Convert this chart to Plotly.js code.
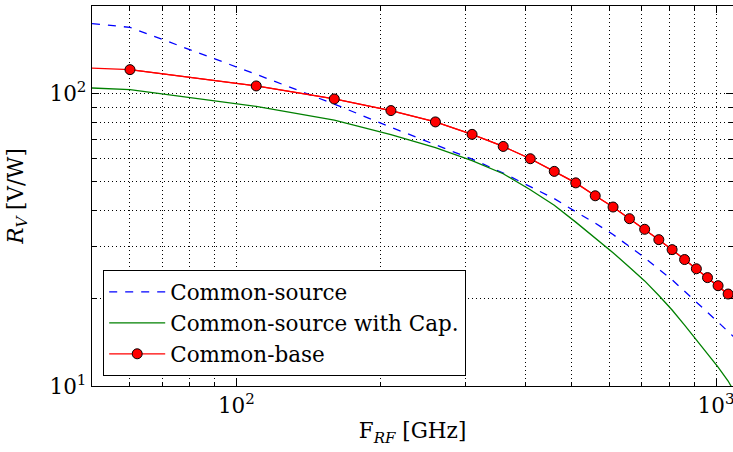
<!DOCTYPE html>
<html>
<head>
<meta charset="utf-8">
<script src="https://cdn.plot.ly/plotly-3.0.1.min.js"></script>
<style>html,body{margin:0;padding:0;background:#fff;}#chart{width:733px;height:452px;}</style>
</head>
<body>
<div id="chart"></div>
<script>
// Frequency samples (GHz)
const freq = [50, 60, 110, 160, 210, 260, 310, 360, 410, 460, 510, 560, 610, 660, 710, 760, 810, 860, 910, 960, 1010, 1060, 1100];
// Responsivity R_V [V/W]
const commonSource    = [174.1, 169.0, 116.7, 92.3, 76.9, 66.9, 59.8, 53.6, 48.1, 43.8, 39.5, 36.1, 33.0, 30.1, 27.5, 25.1, 23.1, 21.1, 19.4, 17.95, 16.55, 15.35, 14.5];
const commonSourceCap = [104.8, 103.4, 90.6, 81.3, 72.6, 65.5, 59.1, 53.3, 47.0, 41.6, 36.4, 32.1, 28.6, 25.5, 22.9, 20.4, 18.2, 16.15, 14.4, 12.9, 11.6, 10.4, 9.34];
const commonBase      = [122.6, 121.1, 106.5, 96.1, 87.7, 80.2, 72.7, 66.1, 60.0, 54.3, 49.6, 44.8, 41.0, 37.4, 34.4, 31.7, 29.3, 27.1, 25.2, 23.5, 22.05, 20.65, 19.6];
// Marker positions of the common-base curve
const markerFreq = freq.slice(1, 22);
const markerBase = commonBase.slice(1, 22);
// Ticks
const xMajor = [100, 1000];
const xMajorText = ['10<sup>2</sup>', '10<sup>3</sup>'];
const xMinor = [60, 70, 80, 90, 200, 300, 400, 500, 600, 700, 800, 900];
const yMajor = [10, 100];
const yMajorText = ['10<sup>1</sup>', '10<sup>2</sup>'];
const yMinor = [20, 30, 40, 50, 60, 70, 80, 90, 200];

const FONT = 'DejaVu Serif';
const FS = 21.5;

const traces = [
  {x: freq, y: commonSource, name: 'Common-source', mode: 'lines',
   line: {color: '#0000ff', width: 1.3, dash: '8px,8px'}},
  {x: freq, y: commonSourceCap, name: 'Common-source with Cap.', mode: 'lines',
   line: {color: '#008000', width: 1.3}},
  {x: freq, y: commonBase, name: 'cb-line', mode: 'lines', showlegend: false,
   line: {color: '#ff0000', width: 1.3}, hoverinfo: 'skip'},
  {x: markerFreq, y: markerBase, name: 'Common-base', mode: 'lines+markers',
   line: {color: '#ff0000', width: 1.3},
   marker: {color: '#ff0000', size: 10, line: {color: '#000000', width: 1}}}
];

const axisCommon = {
  type: 'log', showline: true, linecolor: '#000', linewidth: 1.3, mirror: 'ticks',
  ticks: 'inside', ticklen: 7, tickwidth: 1, tickcolor: '#000',
  showgrid: true, gridcolor: '#000', gridwidth: 1, griddash: '1px,3px',
  zeroline: false, tickmode: 'array', ticklabeloverflow: 'allow',
  tickfont: {family: FONT, size: FS, color: '#000'}
};

const layout = {
  width: 733, height: 452,
  margin: {l: 92, r: 0, t: 6, b: 66},
  paper_bgcolor: '#fff', plot_bgcolor: '#fff',
  font: {family: FONT, size: FS, color: '#000'},
  showlegend: true,
  xaxis: Object.assign({}, axisCommon, {
    range: [Math.log10(50), Math.log10(1085)],
    tickvals: xMajor, ticktext: xMajorText,
    minor: {tickmode: 'array', tickvals: xMinor, ticks: 'inside', ticklen: 4, tickcolor: '#000',
            showgrid: true, gridcolor: '#000', gridwidth: 1, griddash: '1px,3px'},
    title: {text: 'F<sub><i>RF</i></sub> [GHz]', font: {family: FONT, size: FS, color: '#000'}, standoff: 6}
  }),
  yaxis: Object.assign({}, axisCommon, {
    range: [1, Math.log10(200)],
    tickvals: yMajor, ticktext: yMajorText,
    minor: {tickmode: 'array', tickvals: yMinor, ticks: 'inside', ticklen: 4, tickcolor: '#000',
            showgrid: true, gridcolor: '#000', gridwidth: 1, griddash: '1px,3px'},
    title: {text: '<i>R</i><sub><i>V</i></sub> [V/W]', font: {family: FONT, size: FS, color: '#000'}, standoff: 20}
  }),
  legend: {
    x: 0.017, y: 0.026, xanchor: 'left', yanchor: 'bottom',
    bgcolor: '#fff', bordercolor: '#000', borderwidth: 1.3,
    font: {family: FONT, size: FS, color: '#000'},
    itemwidth: 56, tracegroupgap: 0,
    traceorder: 'normal'
  }
};

Plotly.newPlot('chart', traces, layout, {displayModeBar: false, staticPlot: true});
</script>
</body>
</html>
